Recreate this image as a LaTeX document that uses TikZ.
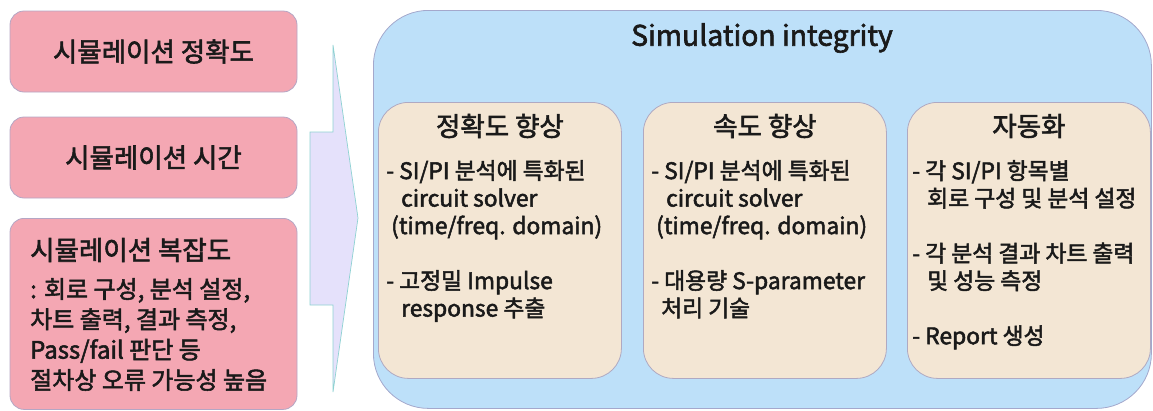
\documentclass[tikz,border=0pt]{standalone}
\usepackage{fontspec}
\setmainfont{Noto Sans CJK KR}[FakeBold=2.2]
\definecolor{pinkfill}{HTML}{F4A7B3}
\definecolor{pinkline}{HTML}{B4A6C4}
\definecolor{bluefill}{HTML}{BDE0F9}
\definecolor{blueline}{HTML}{A4A8CC}
\definecolor{beigefill}{HTML}{F3E6D4}
\definecolor{beigeline}{HTML}{AFA9C2}
\definecolor{arrowfill}{HTML}{E5E1FB}
\definecolor{arrowline}{HTML}{8ED2D2}
\definecolor{ink}{HTML}{1A1A1A}
\begin{document}
\begin{tikzpicture}[x=1pt,y=-1pt,
  pinkbox/.style={draw=pinkline, fill=pinkfill, line width=0.8pt, rounded corners=14pt,
    minimum width=287pt, text=ink, font=\fontsize{26.5}{30}\selectfont, inner sep=0pt},
  groupbox/.style={draw=beigeline, fill=beigefill, line width=0.8pt, rounded corners=30pt,
    minimum width=243pt, minimum height=276pt, inner sep=0pt},
  header/.style={text=ink, font=\fontsize{26.5}{30}\selectfont, anchor=center},
  itemtext/.style={text=ink, font=\fontsize{22.8}{27.5}\selectfont, align=left,
    anchor=north west, inner sep=0pt},
  cplxtext/.style={text=ink, anchor=north west, align=left, inner sep=0pt,
    font=\fontsize{24}{30.3}\selectfont},
]
\useasboundingbox (0,0) rectangle (1153,410);

% problems on the left
\node[pinkbox, minimum height=81pt] (acc) at (153.5,51.5) {시뮬레이션 정확도};
\node[pinkbox, minimum height=81pt] (time) at (153.5,157.5) {시뮬레이션 시간};
\node[pinkbox, minimum height=191pt, anchor=north] (cplx) at (153.5,218) {};
\node[text=ink, anchor=west, inner sep=0pt, font=\fontsize{26.5}{30}\selectfont]
  (cplxhead) at (30,250) {시뮬레이션 복잡도};
\node[cplxtext] (cplxbody) at (30,278)
  {: 회로 구성, 분석 설정,\\
   차트 출력, 결과 측정,\\
   Pass/fail 판단 등\\
   절차상 오류 가능성 높음};

% block arrow
\draw[arrowline, fill=arrowfill, line width=0.7pt]
  (310,132) -- (333,132) -- (333,45) -- (358,218) -- (333,392) -- (333,305)
  -- (310,305) -- cycle;

% solution container
\node[draw=blueline, fill=bluefill, line width=0.8pt, rounded corners=55pt,
      minimum width=778pt, minimum height=398pt, inner sep=0pt, anchor=north west]
  (si) at (373,10) {};
\node[text=ink, font=\fontsize{28.3}{30}\selectfont] (sititle) at (762,38) {Simulation integrity};

% three groups
\node[groupbox, anchor=north west] (ga) at (378,102) {};
\node[groupbox, anchor=north west] (gb) at (643,102) {};
\node[groupbox, anchor=north west] (gc) at (907,102) {};

\node[header] (ha) at (ga.center |- 0,126) {정확도 향상};
\node[header] (hb) at (gb.center |- 0,126) {속도 향상};
\node[header] (hc) at (gc.center |- 0,126) {자동화};

\node[itemtext] (ta) at (386,160)
  {- SI/PI 분석에 특화된\\
   \hspace{15pt}circuit solver\\
   \hspace{5pt}(time/freq. domain)\\
   \mbox{}\\
   - 고정밀 Impulse\\
   \hspace{15pt}response 추출};
\node[itemtext] (tb) at (651,160)
  {- SI/PI 분석에 특화된\\
   \hspace{15pt}circuit solver\\
   \hspace{5pt}(time/freq. domain)\\
   \mbox{}\\
   - 대용량 S-parameter\\
   \hspace{10pt}처리 기술};
\node[itemtext] (tc) at (912,160)
  {- 각 SI/PI 항목별\\
   \hspace{15pt}회로 구성 및 분석 설정\\
   \mbox{}\\
   - 각 분석 결과 차트 출력\\
   \hspace{15pt}및 성능 측정\\
   \mbox{}\\
   - Report 생성};
\end{tikzpicture}
\end{document}
